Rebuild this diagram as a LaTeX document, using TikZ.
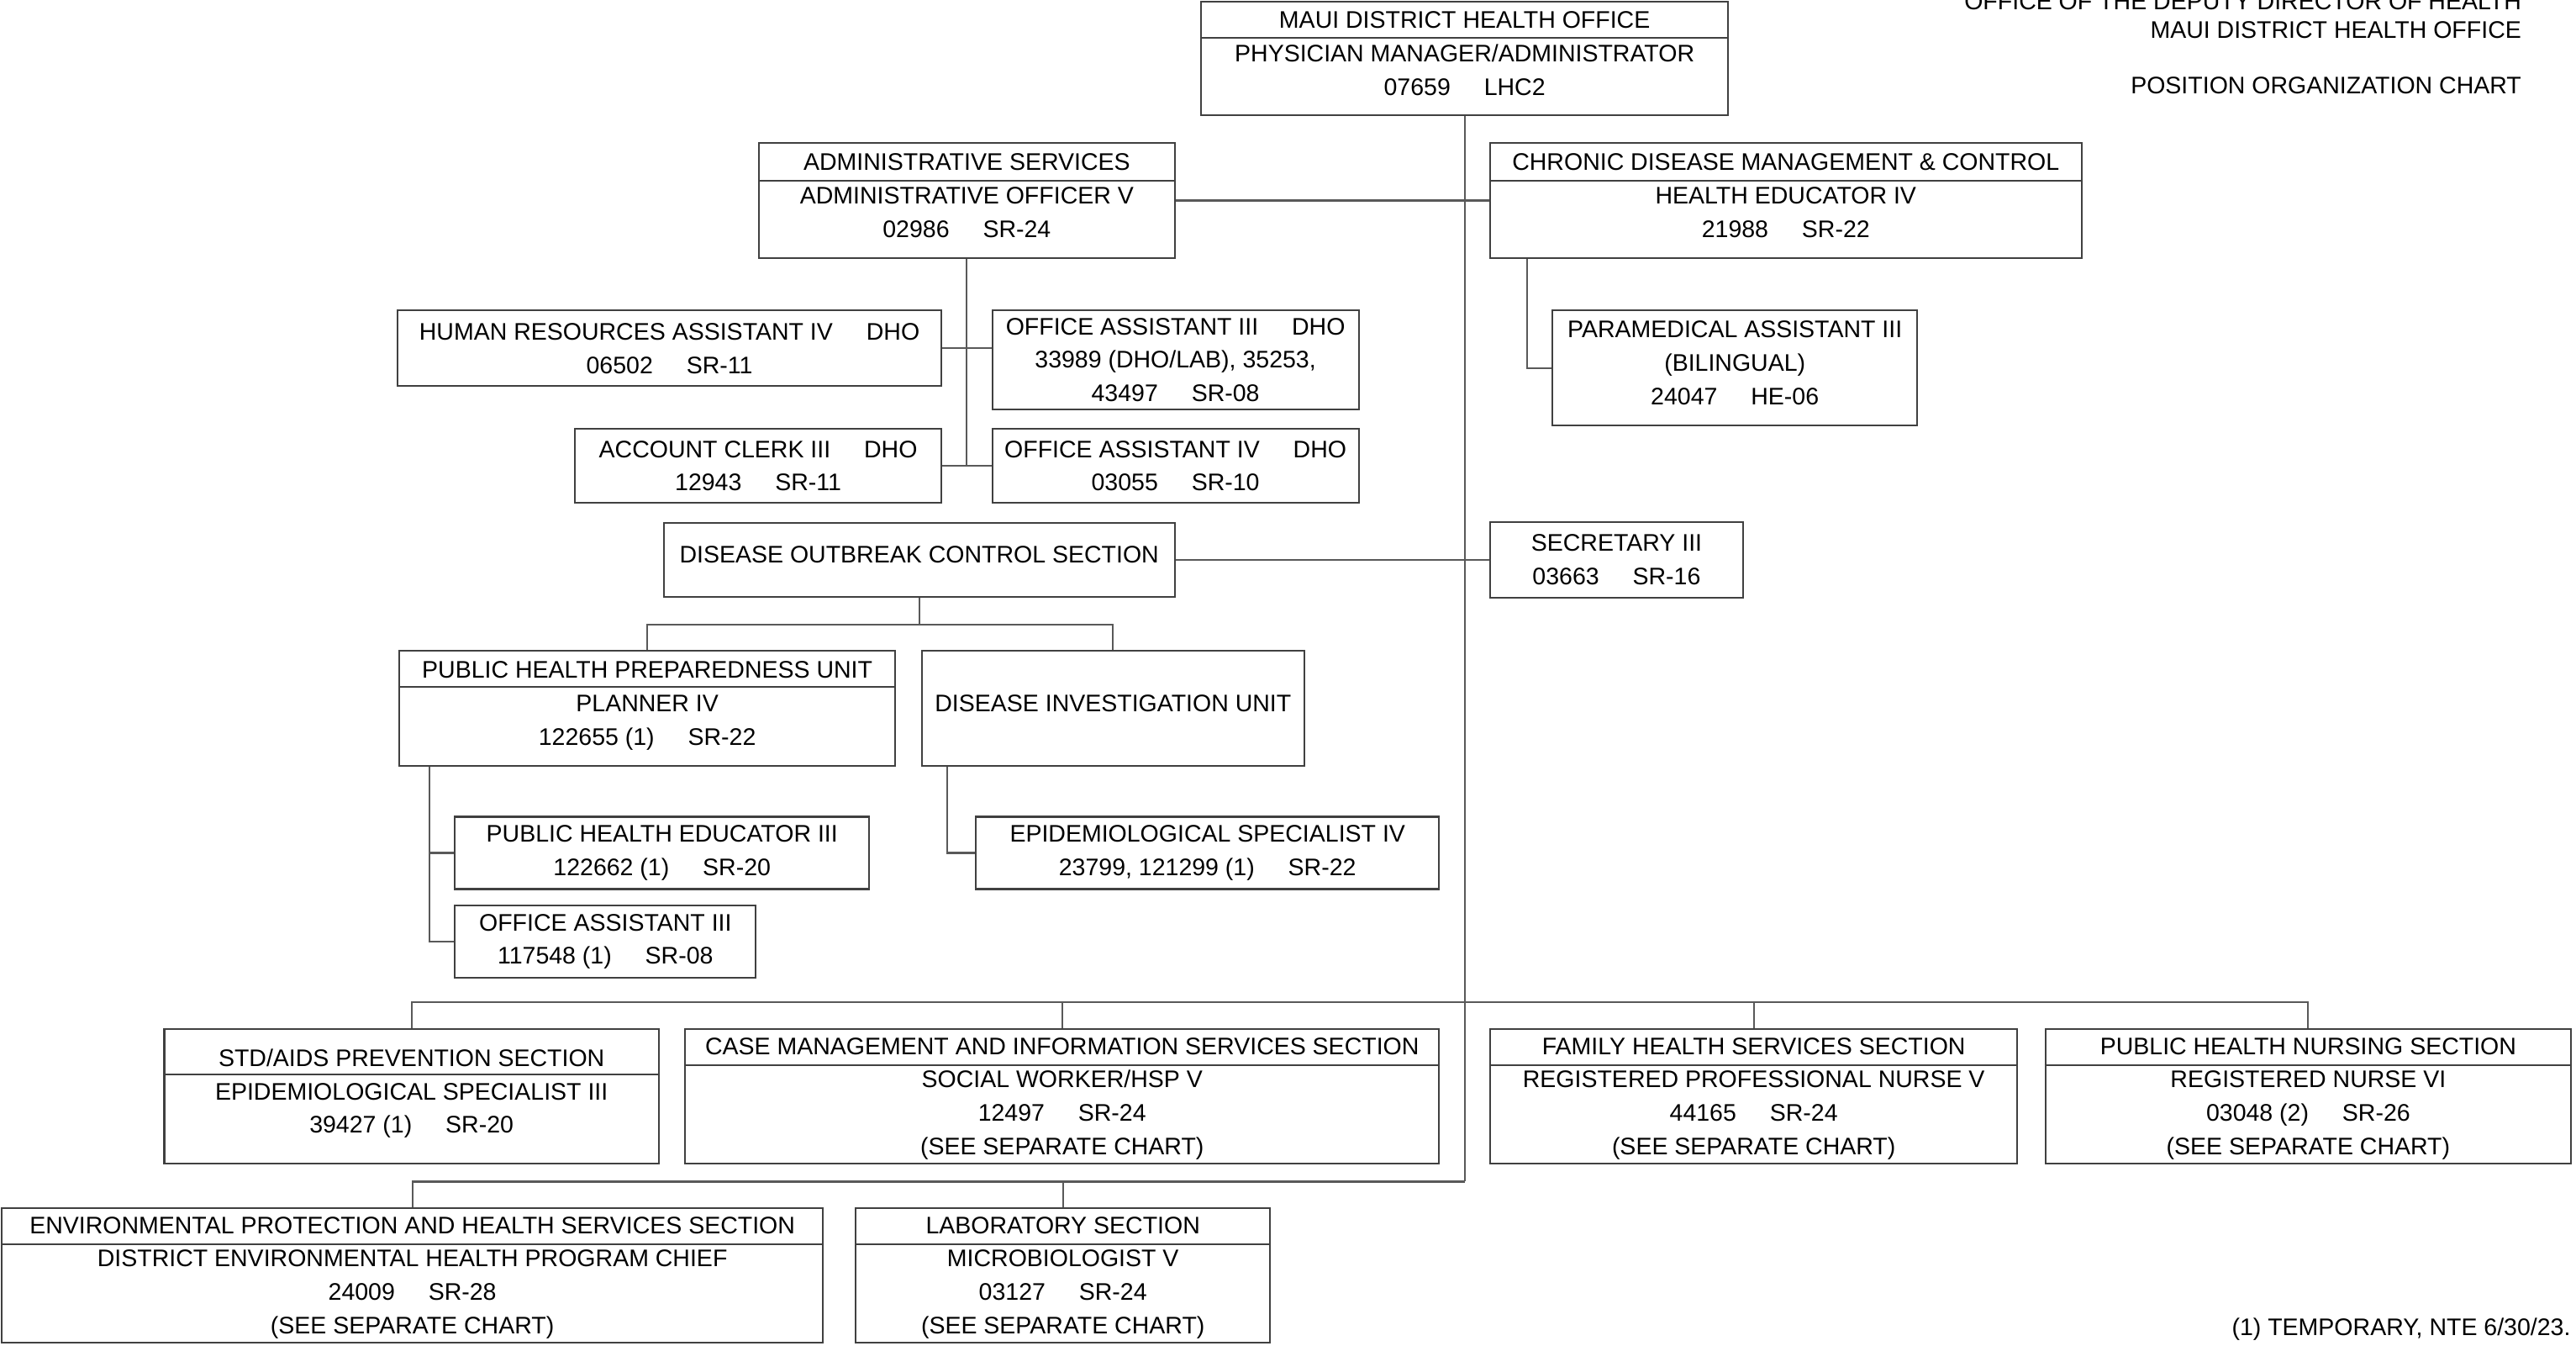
\documentclass[tikz,border=0pt]{standalone}
\usepackage{fontspec}
\setmainfont{Liberation Sans}
\usetikzlibrary{positioning}
\newcommand{\tb}{\hspace{1.4em}}

\begin{document}
\begin{tikzpicture}[
    x=0.02cm, y=-0.02cm,
    posbox/.style={rectangle, draw=black!75, line width=0.6pt, inner sep=1pt, align=center, font=\fontsize{8.3}{11.6}\selectfont},
    boxsize/.style 2 args={minimum width=#1*0.02cm, minimum height=#2*0.02cm},
    lift/.style={text depth=3.5pt},
    sink/.style={text depth=0pt},
    link/.style={draw=black!65, line width=0.6pt},
    rule/.style={draw=black!75, line width=0.6pt},
    note/.style={inner sep=0pt, font=\fontsize{8.3}{10}\selectfont},
]
\useasboundingbox (0,0) rectangle (1568,819);

\node[note, anchor=east] (title1) at (1535,1) {OFFICE OF THE DEPUTY DIRECTOR OF HEALTH};
\node[note, anchor=east] (title2) at (1535,18) {MAUI DISTRICT HEALTH OFFICE};
\node[note, anchor=east] (title3) at (1535,52) {POSITION ORGANIZATION CHART};
\node[note, anchor=east] (footnote) at (1565,809) {(1) TEMPORARY, NTE 6/30/23.};

\node[posbox, boxsize={321}{69}, lift] (dho) at (891.5,35.5) {MAUI DISTRICT HEALTH OFFICE\\PHYSICIAN MANAGER/ADMINISTRATOR\\07659\tb LHC2};
\node[posbox, boxsize={253}{70}, lift] (admin) at (588.5,122) {ADMINISTRATIVE SERVICES\\ADMINISTRATIVE OFFICER V\\02986\tb SR-24};
\node[posbox, boxsize={360}{70}, lift] (chronic) at (1087,122) {CHRONIC DISEASE MANAGEMENT \& CONTROL\\HEALTH EDUCATOR IV\\21988\tb SR-22};
\node[posbox, boxsize={331}{46}] (hrasst) at (407.5,212) {HUMAN RESOURCES ASSISTANT IV\tb DHO\\06502\tb SR-11};
\node[posbox, boxsize={223}{60}] (offasst) at (715.5,219) {OFFICE ASSISTANT III\tb DHO\\33989 (DHO/LAB), 35253,\\43497\tb SR-08};
\node[posbox, boxsize={222}{70}, lift] (paramed) at (1056,224) {PARAMEDICAL ASSISTANT III\\(BILINGUAL)\\24047\tb HE-06};
\node[posbox, boxsize={223}{45}] (clerk) at (461.5,283.5) {ACCOUNT CLERK III\tb DHO\\12943\tb SR-11};
\node[posbox, boxsize={223}{45}] (offasstiv) at (715.5,283.5) {OFFICE ASSISTANT IV\tb DHO\\03055\tb SR-10};
\node[posbox, boxsize={311}{45}, lift] (outbreak) at (559.5,340.5) {DISEASE OUTBREAK CONTROL SECTION};
\node[posbox, boxsize={154}{46}] (secretary) at (984,340.5) {SECRETARY III\\03663\tb SR-16};
\node[posbox, boxsize={302}{70}, lift] (prep) at (394,431) {PUBLIC HEALTH PREPAREDNESS UNIT\\PLANNER IV\\122655 (1)\tb SR-22};
\node[posbox, boxsize={233}{70}, lift] (invest) at (677.5,431) {DISEASE INVESTIGATION UNIT};
\node[posbox, boxsize={252}{44}] (educator) at (403,519) {PUBLIC HEALTH EDUCATOR III\\122662 (1)\tb SR-20};
\node[posbox, boxsize={183}{44}] (offasstb) at (368.5,573) {OFFICE ASSISTANT III\\117548 (1)\tb SR-08};
\node[posbox, boxsize={282}{44}] (epispec) at (735,519) {EPIDEMIOLOGICAL SPECIALIST IV\\23799, 121299 (1)\tb SR-22};
\node[posbox, boxsize={301}{82}, lift] (stdaids) at (250.5,667) {STD/AIDS PREVENTION SECTION\\EPIDEMIOLOGICAL SPECIALIST III\\39427 (1)\tb SR-20};
\node[posbox, boxsize={459}{82}, sink] (casemgmt) at (646.5,667) {CASE MANAGEMENT AND INFORMATION SERVICES SECTION\\SOCIAL WORKER/HSP V\\12497\tb SR-24\\(SEE SEPARATE CHART)};
\node[posbox, boxsize={321}{82}, sink] (family) at (1067.5,667) {FAMILY HEALTH SERVICES SECTION\\REGISTERED PROFESSIONAL NURSE V\\44165\tb SR-24\\(SEE SEPARATE CHART)};
\node[posbox, boxsize={320}{82}, sink] (nursing) at (1405,667) {PUBLIC HEALTH NURSING SECTION\\REGISTERED NURSE VI\\03048 (2)\tb SR-26\\(SEE SEPARATE CHART)};
\node[posbox, boxsize={500}{82}, sink] (environ) at (251,776) {ENVIRONMENTAL PROTECTION AND HEALTH SERVICES SECTION\\DISTRICT ENVIRONMENTAL HEALTH PROGRAM CHIEF\\24009\tb SR-28\\(SEE SEPARATE CHART)};
\node[posbox, boxsize={252}{82}, sink] (lab) at (647,776) {LABORATORY SECTION\\MICROBIOLOGIST V\\03127\tb SR-24\\(SEE SEPARATE CHART)};

\draw[rule] (dho.west |- 0,23) -- (dho.east |- 0,23);
\draw[rule] (admin.west |- 0,110) -- (admin.east |- 0,110);
\draw[rule] (chronic.west |- 0,110) -- (chronic.east |- 0,110);
\draw[rule] (prep.west |- 0,418) -- (prep.east |- 0,418);
\draw[rule] (stdaids.west |- 0,654) -- (stdaids.east |- 0,654);
\draw[rule] (casemgmt.west |- 0,648) -- (casemgmt.east |- 0,648);
\draw[rule] (family.west |- 0,648) -- (family.east |- 0,648);
\draw[rule] (nursing.west |- 0,648) -- (nursing.east |- 0,648);
\draw[rule] (environ.west |- 0,757) -- (environ.east |- 0,757);
\draw[rule] (lab.west |- 0,757) -- (lab.east |- 0,757);

\coordinate (rowa) at (891.5,610);
\coordinate (rowb) at (891.5,719);
\coordinate (adminj) at (588.5,284);
\coordinate (outbreakj) at (559.5,380);

\draw[link] (dho.south) -- (rowb);
\draw[link] (admin.east) -- (chronic.west);
\draw[link] (admin.south) -- (adminj);
\draw[link] (hrasst.east) -- (hrasst.east -| offasst.west);
\draw[link] (clerk.east) -- (offasstiv.west);
\draw[link] ([xshift=0.46cm]chronic.south west) |- (paramed.west);
\draw[link] (outbreak.east) -- (secretary.west);
\draw[link] (outbreak.south) -- (outbreakj);
\draw[link] (prep.north) |- (outbreakj) -| (invest.north);
\draw[link] ([xshift=0.38cm]prep.south west) |- (offasstb.west);
\draw[link] (educator.west) -- ++(-15,0);
\draw[link] ([xshift=0.32cm]invest.south west) |- (epispec.west);
\draw[link] (stdaids.north) |- (rowa) -| (nursing.north);
\draw[link] (casemgmt.north) -- (casemgmt.north |- rowa);
\draw[link] (family.north) -- (family.north |- rowa);
\draw[link] (environ.north) |- (rowb);
\draw[link] (lab.north) -- (lab.north |- rowb);
\end{tikzpicture}
\end{document}
